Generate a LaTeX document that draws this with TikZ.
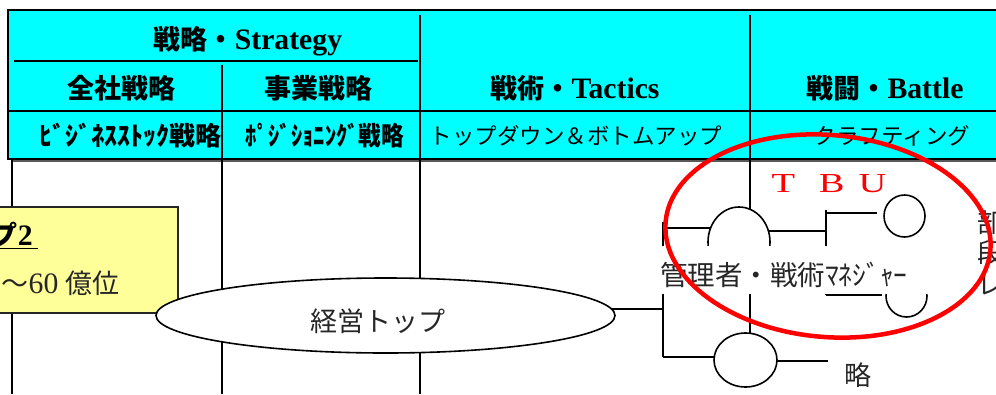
\documentclass[tikz,border=0pt]{standalone}
\usepackage{fontspec}
\setmainfont{Liberation Serif}[Scale=1.1]
\newfontfamily\jp{Noto Sans CJK JP}
\usetikzlibrary{shapes.geometric,backgrounds}
\definecolor{ylw}{HTML}{FFFF99}
\definecolor{tbured}{HTML}{FF0000}
\definecolor{tblcyan}{HTML}{00FFFF}
\newcommand\myfs[1]{\fontsize{#1pt}{#1pt}\selectfont}
\begin{document}
\begin{tikzpicture}[x=1pt,y=-1pt,
  gridline/.style={line width=1.5pt},
  conn/.style={line width=1.7pt},
  hdr/.style={inner sep=0pt, font=\myfs{27}\bfseries},
  subb/.style={inner sep=0pt, font=\jp\myfs{26}\bfseries},
  subr/.style={inner sep=0pt, font=\jp\myfs{22.5}},
  circ/.style={ellipse, draw, fill=white, line width=1.6pt, inner sep=0pt},
  ring/.style={ellipse, draw=tbured, line width=4.5pt, inner sep=0pt},
  lbl/.style={inner sep=0pt, text=black!85, font=\jp\myfs{27}},
]
\useasboundingbox (0,0) rectangle (996,394);
\clip (0,0) rectangle (996,394);

% table
\fill[black!65] (11,13) rectangle (1013,162);
\draw[line width=1.8pt, fill=tblcyan] (8,10) rectangle (1010,159);
\draw[gridline] (14,61) -- (418,61);
\draw[gridline] (8,111) -- (1010,111);
\draw[gridline] (222,65) -- (222,394);
\draw[gridline] (420,15) -- (420,394);
\draw[gridline] (750,15) -- (750,333);
\draw[gridline] (12,160) -- (12,394);

% header texts
\node[hdr] (hStrat) at (248,41) {{\jp 戦略・}Strategy};
\node[hdr] (hZen) at (121,88) {\jp 全社戦略};
\node[hdr] (hJig) at (318,88) {\jp 事業戦略};
\node[hdr] (hTac) at (575,88) {{\jp 戦術・}Tactics};
\node[hdr] (hBat) at (885,88) {{\jp 戦闘・}Battle};
\node[subb] (hBiz) at (130,136) {ﾋﾞｼﾞﾈｽｽﾄｯｸ戦略};
\node[subb] (hPos) at (325,136) {\scalebox{0.87}[1]{ﾎﾟｼﾞｼｮﾆﾝｸﾞ戦略}};
\node[subr] (hTop) at (576,136) {トップダウン＆ボトムアップ};
\node[subr] (hCraft) at (892,136) {クラフティング};

% yellow box
\node[draw=black!85, line width=1.5pt, fill=ylw, minimum width=200pt, minimum height=106pt, inner sep=0pt] (ybox) at (78,260) {};
\node[inner sep=0pt, anchor=base east, font=\myfs{27}\bfseries] (yStep) at (38,245) {\underline{{\jp プ}2\hspace{5pt}}};
\node[inner sep=0pt, anchor=base east, font=\myfs{27}, text=black!85] (yAmt) at (120,293) {{\jp ～}60 {\jp 億位}};

% management top ellipse
\node[ellipse, draw, fill=white, line width=1.6pt, minimum width=459pt, minimum height=75pt, inner sep=0pt] (top) at (385.5,315.5) {};
\node[lbl] (topTxt) at (377.5,321.5) {経営トップ};

% circles
\node[circ, minimum width=62pt, minimum height=70pt] (c1) at (739,242) {};
\node[circ, minimum width=63pt, minimum height=54pt] (c2) at (745.5,360) {};
\node[circ, minimum width=41pt, minimum height=42pt] (c3) at (904.5,216) {};
\node[circ, minimum width=41pt, minimum height=42pt] (c4) at (906.5,296) {};

% manager label (white background)
\node[fill=white, anchor=west, inner xsep=5pt, inner ysep=0pt, text width=270pt, align=left,
      minimum height=48pt, text height=34pt, text depth=3pt, text=black!85, font=\jp\myfs{27.5}]
      (mgr) at (655,270) {管理者・戦術ﾏﾈｼﾞｬｰ};

\node[lbl] (ryaku) at (857.5,375) {略};
\node[lbl, anchor=west, font=\jp\myfs{26}] (rBu) at (977,223) {部};
\node[lbl, anchor=west, font=\jp\myfs{26}] (rDan) at (977,253) {段};
\node[lbl, anchor=west, font=\jp\myfs{26}] (rRe) at (977,285) {レ};

% connectors
\coordinate (ja) at (663,309);
\coordinate (jaT) at (663,222);
\coordinate (jaB) at (663,357);
\coordinate (jc1) at (663,228);
\coordinate (jb) at (826,231);
\coordinate (jbT) at (826,210);
\coordinate (jbB) at (826,295);
\coordinate (e3) at (877,213);
\coordinate (e4) at (882,295);
\coordinate (e2) at (828,361);
\begin{pgfonlayer}{background}
\draw[conn] (top.center |- ja) -- (ja);
\draw[conn] (jaT) -- (jaB);
\draw[conn] (jc1) -- (jc1 -| c1.center);
\draw[conn] (jaB) -- (jaB -| c2.center);
\draw[conn] (jb -| c1.center) -- (jb);
\draw[conn] (jbT) -- (jbB);
\draw[conn] (jbT |- e3) -- (e3);
\draw[conn] (jbB) -- (e4);
\draw[conn] (e2 -| c2.center) -- (e2);
\end{pgfonlayer}

% red highlight
\node[ring, minimum width=326pt, minimum height=202pt, rotate=-5] (tbuRing) at (828,236) {};
\node[inner sep=0pt, text=tbured, font=\myfs{25}] (tbu) at (829,184) {\scalebox{1.4}[1]{T\hspace{17pt}B\hspace{10pt}U}};
\end{tikzpicture}
\end{document}
